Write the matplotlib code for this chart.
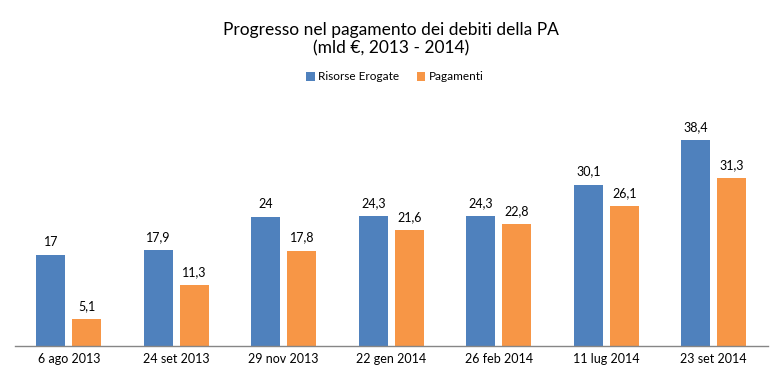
import matplotlib.pyplot as plt
import numpy as np

dates = ['6 ago 2013', '24 set 2013', '29 nov 2013', '22 gen 2014',
         '26 feb 2014', '11 lug 2014', '23 set 2014']
risorse = [17, 17.9, 24, 24.3, 24.3, 30.1, 38.4]
pagamenti = [5.1, 11.3, 17.8, 21.6, 22.8, 26.1, 31.3]

BLUE = '#4F81BD'
ORANGE = '#F79646'

plt.rcParams['font.family'] = ['Lato', 'DejaVu Sans']

fig = plt.figure(figsize=(7.82, 3.8), dpi=100)
ax = fig.add_axes([15 / 782, 34 / 380, 752.5 / 782, 246 / 380])

x = np.arange(len(dates))
w = 0.27
off = 0.1674
b1 = ax.bar(x - off, risorse, w, color=BLUE, label='Risorse Erogate')
b2 = ax.bar(x + off, pagamenti, w, color=ORANGE, label='Pagamenti')


def fmt(v):
    s = f'{v:g}'
    return s.replace('.', ',')


for bars, vals in ((b1, risorse), (b2, pagamenti)):
    for r, v in zip(bars, vals):
        ax.annotate(fmt(v), (r.get_x() + r.get_width() / 2, v),
                    xytext=(0, 5), textcoords='offset points',
                    ha='center', va='bottom', fontsize=9, color='#000000')

ax.set_xlim(-0.5, len(dates) - 0.5)
ax.set_ylim(0, 246 / 5.365)
ax.set_xticks(x)
ax.set_xticklabels(dates, fontsize=9)
ax.tick_params(axis='x', length=0, pad=5)
ax.set_yticks([])
for s in ('top', 'right', 'left'):
    ax.spines[s].set_visible(False)
ax.spines['bottom'].set_color('#868686')
ax.spines['bottom'].set_linewidth(1)

fig.text(0.5, 1 - 30 / 380, 'Progresso nel pagamento dei debiti della PA',
         ha='center', va='center', fontsize=12.5)
fig.text(0.5, 1 - 48 / 380, '(mld €, 2013 - 2014)',
         ha='center', va='center', fontsize=12.5)

fig.legend(handles=[b1, b2], loc='center', bbox_to_anchor=(0.505, 1 - 77 / 380),
           ncol=2, frameon=False, fontsize=8.5, handlelength=0.7, handleheight=0.7,
           handletextpad=0.3, columnspacing=1.5)

fig.savefig('out.png', dpi=100)
